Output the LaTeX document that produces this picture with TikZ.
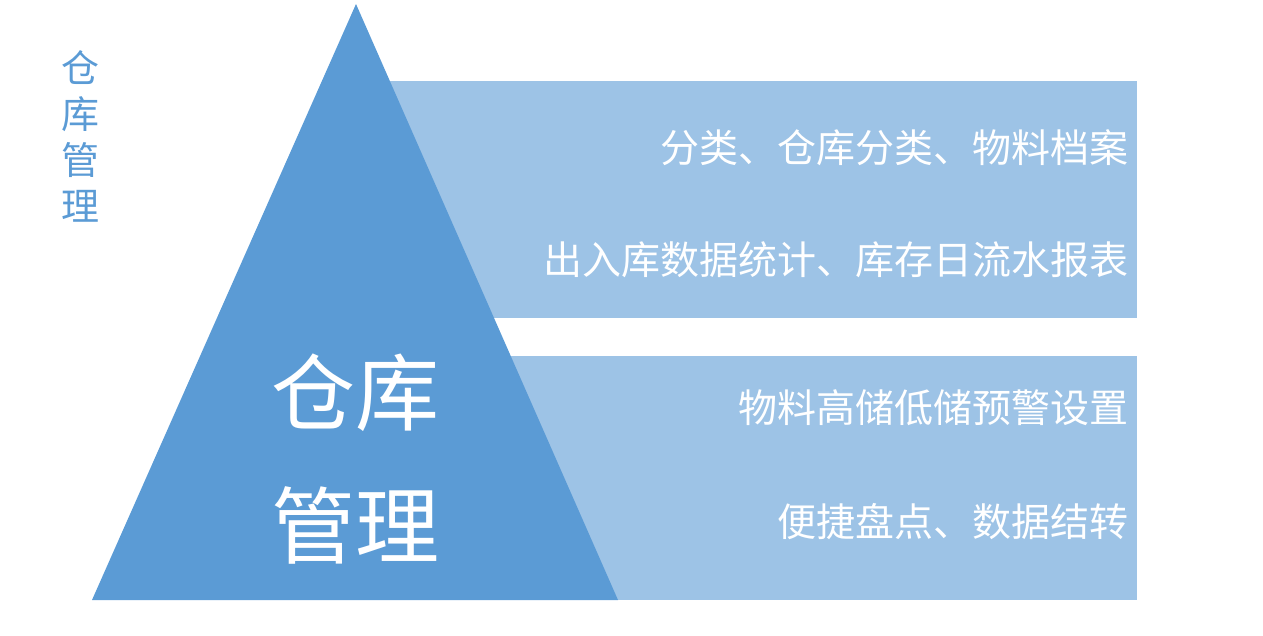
\documentclass[tikz,border=0pt]{standalone}
\usepackage{fontspec}
\usepackage{tikz}
\newfontfamily\cjk{Noto Sans CJK SC}
\definecolor{pyramid}{HTML}{5B9BD5}
\definecolor{band}{HTML}{9DC3E6}
\tikzset{
  item/.style={anchor=east,text=white,inner sep=0pt,font=\cjk\fontsize{39}{39}\selectfont},
  big/.style={text=white,inner sep=0pt,font=\cjk\fontsize{84}{84}\selectfont}
}

\begin{document}
\begin{tikzpicture}[x=1pt,y=-1pt]
    \useasboundingbox (0,0) rectangle (1263,635);
    \fill[band] (356,81) rectangle (1137,318);
    \fill[band] (356,356) rectangle (1137,600);
    \fill[pyramid] (356,4) -- (92,600) -- (618,600) -- cycle;
    \node[text=pyramid,align=center,inner sep=0pt,font=\cjk\fontsize{38}{46}\selectfont] (title) at (80,136) {仓\\库\\管\\理};
    \node[big] (top) at (355,393) {仓库};
    \node[big] (bottom) at (355,525) {管理};
    \node[item] (cat) at (1129,148) {分类、仓库分类、物料档案};
    \node[item] (stat) at (1129,260) {出入库数据统计、库存日流水报表};
    \node[item] (warn) at (1129,408) {物料高储低储预警设置};
    \node[item] (count) at (1129,522) {便捷盘点、数据结转};
\end{tikzpicture}
\end{document}
